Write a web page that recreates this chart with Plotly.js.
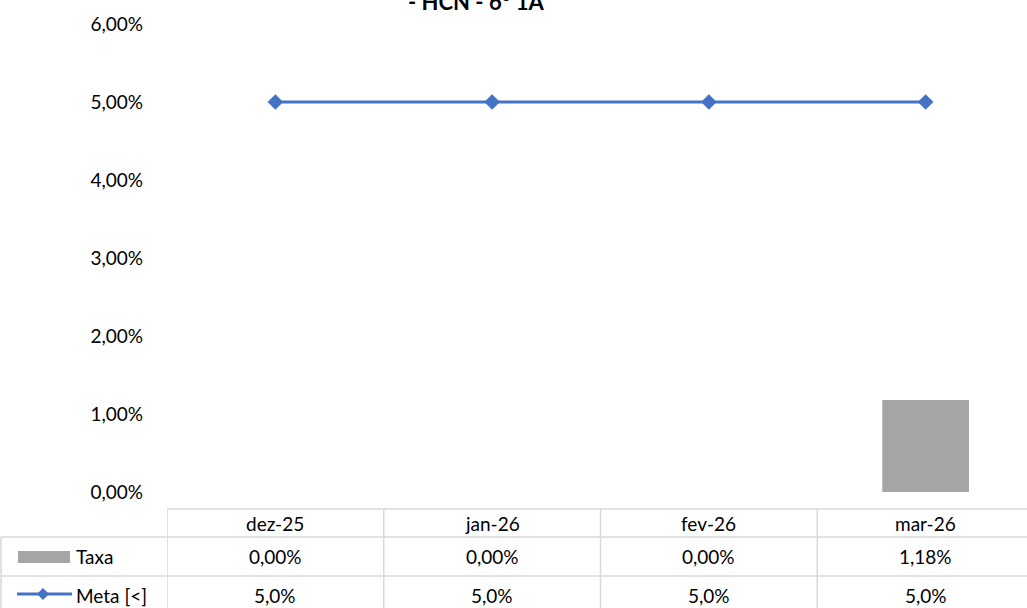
<!DOCTYPE html>
<html><head><meta charset="utf-8">
<script src="https://cdn.plot.ly/plotly-3.0.1.min.js"></script>
<style>html,body{margin:0;padding:0;overflow:hidden;background:#fff}#chart{width:1034px;height:608px}</style>
</head><body><div id="chart"></div>
<script>
const categories = ["dez-25", "jan-26", "fev-26", "mar-26"];
const taxa = [0.0, 0.0, 0.0, 0.0118];
const meta = [0.05, 0.05, 0.05, 0.05];
const taxaLabels = ["0,00%", "0,00%", "0,00%", "1,18%"];
const metaLabels = ["5,0%", "5,0%", "5,0%", "5,0%"];
const seriesNames = ["Taxa", "Meta [<]"];
const titleText = "- HCN - 6º 1A";

const FONT = "Lato, 'Open Sans', sans-serif";
const BLUE = "#4472C4", GRAY = "#A5A5A5", GRID = "#D9D9D9";
const plotH = 468, plotTop = 24, plotBottom = 492, plotW = 867;
const py = p => (plotBottom - p) / plotH; // pixel y -> paper y
const px = p => (p - 167) / plotW;        // pixel x -> paper x

const xs = categories.map((c, i) => i);
const traces = [
  {type: "bar", x: xs, y: taxa, name: seriesNames[0], marker: {color: GRAY}, width: 0.4, hoverinfo: "none"},
  {type: "scatter", mode: "lines+markers", x: xs, y: meta, name: seriesNames[1],
   line: {color: BLUE, width: 3}, marker: {symbol: "diamond", size: 12, color: BLUE}, hoverinfo: "none"}
];

const shapes = [], annotations = [];
const yTop = py(509), yHead = py(537), yTaxa = py(576), yBot = py(612);
shapes.push({type: "line", xref: "x", yref: "paper", x0: -0.5, x1: 3.5, y0: yTop, y1: yTop, line: {color: GRID, width: 1.5}});
[yHead, yTaxa].forEach(y => shapes.push({type: "line", xref: "paper", yref: "paper", x0: px(1), x1: 1, y0: y, y1: y, line: {color: GRID, width: 1.5}}));
for (let i = 0; i <= categories.length; i++) {
  shapes.push({type: "line", xref: "x", yref: "paper", x0: i - 0.5, x1: i - 0.5, y0: yTop, y1: yBot, line: {color: GRID, width: 1.5}});
}
shapes.push({type: "line", xref: "paper", yref: "paper", x0: px(1), x1: px(1), y0: yHead, y1: yBot, line: {color: GRID, width: 1.5}});
// legend keys
shapes.push({type: "rect", xref: "paper", yref: "paper", x0: px(18), x1: px(70), y0: py(563), y1: py(551), fillcolor: GRAY, line: {width: 0}});
shapes.push({type: "line", xref: "paper", yref: "paper", x0: px(17), x1: px(72), y0: py(594), y1: py(594), line: {color: BLUE, width: 3}});
shapes.push({type: "path", xref: "paper", yref: "paper",
  path: `M ${px(37)} ${py(594)} L ${px(43)} ${py(588)} L ${px(49)} ${py(594)} L ${px(43)} ${py(600)} Z`,
  fillcolor: BLUE, line: {width: 0}});

const tf = {family: FONT, size: 19, color: "#000"};
categories.forEach((c, i) => {
  annotations.push({xref: "x", yref: "paper", x: i, y: py(523), text: c, showarrow: false, font: tf, xanchor: "center", yanchor: "middle"});
  annotations.push({xref: "x", yref: "paper", x: i, y: py(556), text: taxaLabels[i], showarrow: false, font: tf, xanchor: "center", yanchor: "middle"});
  annotations.push({xref: "x", yref: "paper", x: i, y: py(595), text: metaLabels[i], showarrow: false, font: tf, xanchor: "center", yanchor: "middle"});
});
annotations.push({xref: "paper", yref: "paper", x: px(74), y: py(556), text: seriesNames[0], showarrow: false, font: tf, xanchor: "left", yanchor: "middle"});
annotations.push({xref: "paper", yref: "paper", x: px(74), y: py(595), text: seriesNames[1], showarrow: false, font: tf, xanchor: "left", yanchor: "middle"});
annotations.push({xref: "paper", yref: "paper", x: px(476), y: py(2), text: "<b>" + titleText + "</b>", showarrow: false,
  font: {family: FONT, size: 22, color: "#000"}, xanchor: "center", yanchor: "middle"});

const layout = {
  width: 1034, height: 608,
  margin: {l: 167, r: 0, t: plotTop, b: 608 - plotBottom, pad: 0},
  paper_bgcolor: "#fff", plot_bgcolor: "#fff",
  showlegend: false,
  separators: ",.",
  font: {family: FONT, size: 19, color: "#000"},
  xaxis: {range: [-0.5, 3.5], showticklabels: false, showgrid: false, zeroline: false, showline: false, ticks: ""},
  yaxis: {range: [0, 0.06], dtick: 0.01, tickformat: ".2%", showgrid: false, zeroline: false, showline: false,
          ticks: "", ticklabelstandoff: 23, tickfont: {family: FONT, size: 19, color: "#000"}},
  shapes: shapes, annotations: annotations
};
Plotly.newPlot("chart", traces, layout, {staticPlot: true});
</script></body></html>
